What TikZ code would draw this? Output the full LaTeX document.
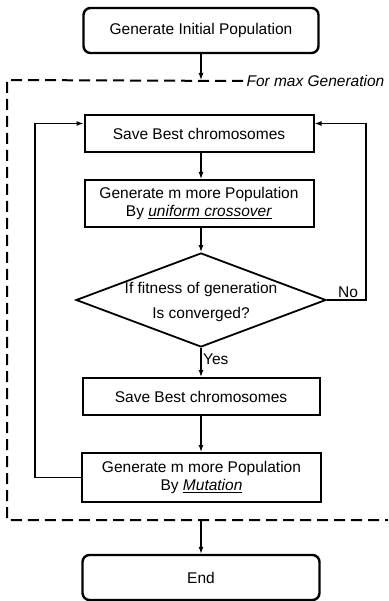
\documentclass[tikz,border=0pt]{standalone}
\usepackage{fontspec}
\setmainfont{Liberation Sans}
\usetikzlibrary{shapes.geometric,arrows.meta}
\begin{document}
\begin{tikzpicture}[x=1pt,y=-1pt,
        every node/.style={font=\fontsize{15.5}{18}\selectfont},
        endbox/.style={draw,rounded corners=7pt,line width=2.4pt,minimum width=235pt,minimum height=45pt},
        procbox/.style={draw,line width=2pt,minimum height=37pt,align=center,inner sep=0pt},
        decision/.style={draw,diamond,line width=1.8pt,minimum width=250pt,minimum height=94pt,inner sep=0pt},
        line/.style={line width=1.2pt,-{Latex[length=7pt,width=5pt]}},
        frame/.style={line width=2pt,dash pattern=on 11pt off 6pt}]
        \useasboundingbox (0,0) rectangle (388,601);

        % boxes
        \node[endbox] (start) at (201,30.5) {Generate Initial Population};
        \node[procbox,minimum width=229pt] (save1) at (199,133.5) {Save Best chromosomes};
        \node[procbox,minimum width=229pt,minimum height=47pt] (gen1) at (199,203.5)
            {Generate m more Population\\By \underline{\textit{uniform crossover}}};
        \node[decision] (dec) at (201,300) {};
        \node[align=center] (dectext) at (201,302) {If fitness of generation\\[7pt]Is converged?};
        \node[procbox,minimum width=237pt] (save2) at (201,396.5) {Save Best chromosomes};
        \node[procbox,minimum width=239pt,minimum height=49pt] (gen2) at (201.5,477.5)
            {Generate m more Population\\By \underline{\textit{Mutation}}};
        \node[endbox,minimum width=237pt] (end) at (201,577.5) {End};

        % loop frame
        \coordinate (fnw) at (7,80);
        \coordinate (fsw) at (7,520);
        \coordinate (fse) at (388,520);
        \node[anchor=west,font=\fontsize{15.5}{18}\selectfont\itshape] (loopnote) at (243,81) {For max Generation};
        \draw[frame] (loopnote.west) -- (fnw) -- (fsw) -- (fse);

        % connectors
        \draw[line] (start.south) -- (start.south |- fnw);
        \draw[line] (save1.south -| dec) -- (gen1.north -| dec);
        \draw[line] (gen1.south -| dec) -- (dec);
        \draw[line] (dec) -- (save2);
        \draw[line] (save2) -- (save2 |- gen2.north);
        \draw[line] (start.south |- fsw) -- (end);
        \draw[line] (dec.east) -- ++(39,0) |- ([yshift=10pt]save1.east);
        \draw[line] (gen2.west) -- ++(-46,0) |- ([yshift=10pt]save1.west);

        \node[anchor=south west,inner sep=2pt] (no) at ([xshift=9pt]dec.east) {No};
        \node[anchor=west,inner sep=2pt] (yes) at ([yshift=-11pt]dec.south) {Yes};
    \end{tikzpicture}
\end{document}
